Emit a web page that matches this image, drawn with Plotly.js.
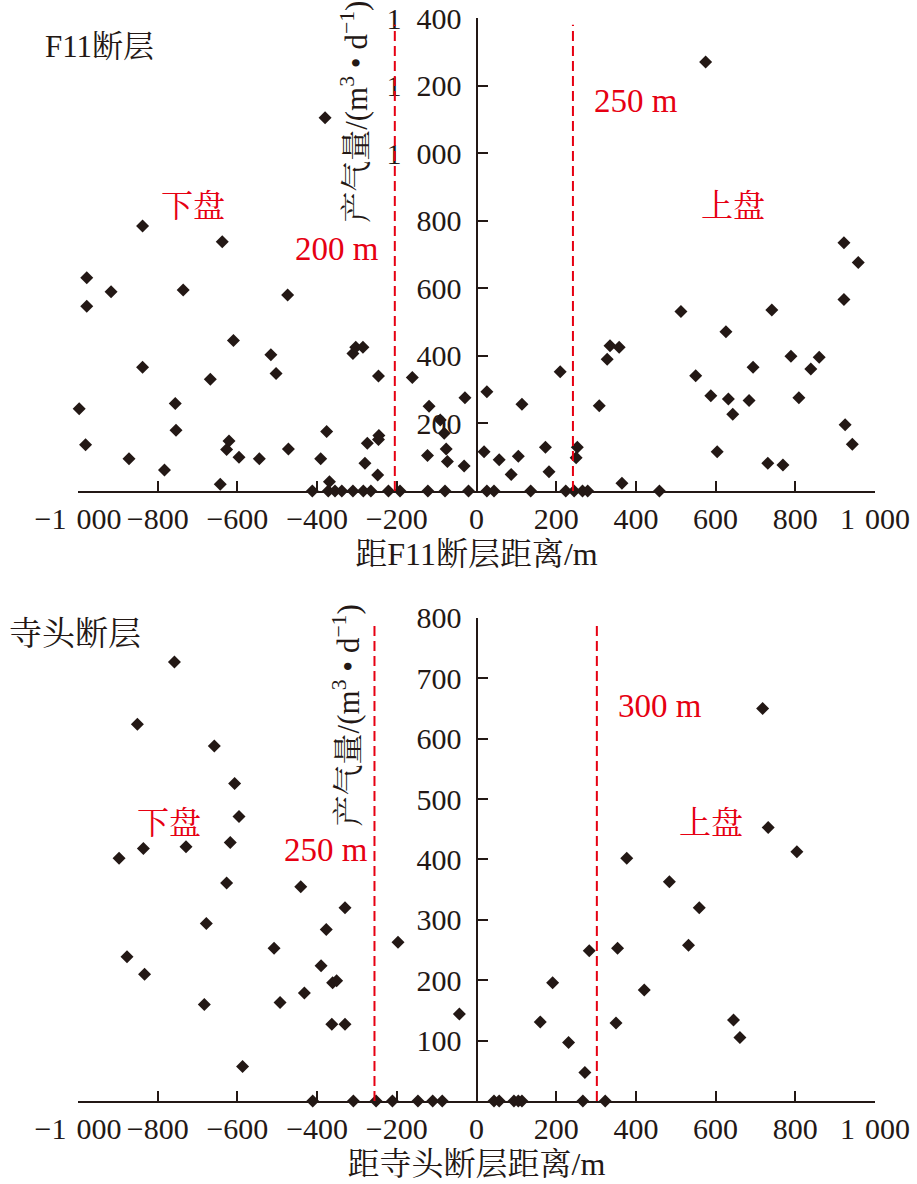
<!DOCTYPE html>
<html>
<head>
<meta charset="utf-8">
<script src="https://cdn.plot.ly/plotly-3.0.1.min.js"></script>
<style>
  html, body { margin: 0; padding: 0; background: #ffffff; }
  #chart { width: 917px; height: 1184px; }
</style>
</head>
<body>
<div id="chart"></div>
<script>
// ---------- Data: F11 fault (top panel) ----------
const f11Distance = [
  -380, -838, -638, -978, -917, -736, -474, -978, -610, -516,
  -310, -303, -285, -503, -838, -668, -246, -161, -997, -756,
  -119, -29, -91, -81, -76, -73, -31, -123, -981, -754,
  -621, -627, -596, -545, -472, -872, -783, -376, -391, -245,
  -246, -274, -280, -248, -643, -369,
  -412, -372, -355, -338, -310, -284, -265, -221, -192, -122, -79, -20,
  575, 922, 958, 922, 513, 741, 626, 335, 358, 328,
  210, 26, 114, 308, 550, 588, 632, 643, 684, 694,
  789, 860, 839, 809, 925, 943, 604, 731, 769, 19,
  57, 105, 87, 173, 182, 253, 250, 365,
  26, 44, 136, 224, 245, 266, 279, 459
];
const f11Gas = [
  1105, 784, 738, 631, 590, 595, 580, 547, 445, 403,
  407, 425, 425, 348, 366, 331, 340, 336, 243, 259,
  251, 276, 210, 171, 124, 87, 74, 105, 137, 180,
  148, 123, 100, 95, 124, 95, 62, 176, 95, 164,
  152, 141, 82, 47, 20, 27,
  0, 0, 0, 0, 0, 0, 0, 0, 0, 0, 0, 0,
  1270, 735, 676, 567, 531, 536, 471, 430, 425, 390,
  353, 294, 257, 252, 341, 282, 272, 227, 268, 366,
  399, 396, 361, 276, 196, 138, 116, 82, 77, 116,
  92, 103, 49, 129, 57, 129, 98, 23,
  0, 0, 0, 0, 0, 0, 0, 0
];
const f11Limits = [-205, 242];

// ---------- Data: Sitou fault (bottom panel) ----------
const sitouDistance = [
  -758, -851, -658, -607, -596, -618, -729, -836, -897, -627,
  -441, -330, -678, -377, -197, -508, -877, -390, -833, -361,
  -351, -432, -493, -683, -363, -330, -43, -587,
  -411, -309, -252, -211, -147, -110, -86,
  718, 732, 804, 377, 484, 559, 532, 354, 283, 191,
  421, 160, 350, 645, 661, 231, 272,
  44, 57, 94, 105, 114, 267, 323
];
const sitouGas = [
  727, 624, 588, 526, 471, 428, 421, 418, 402, 361,
  355, 320, 294, 284, 263, 253, 239, 224, 210, 196,
  199, 179, 163, 160, 127, 127, 144, 57,
  0, 0, 0, 0, 0, 0, 0,
  650, 453, 413, 402, 363, 320, 258, 253, 249, 196,
  184, 131, 129, 134, 105, 97, 47,
  0, 0, 0, 0, 0, 0, 0
];
const sitouLimits = [-256, 302];

// ---------- Tick labels ----------
const SP = '\u2004';
const xTickVals = [-1000, -800, -600, -400, -200, 0, 200, 400, 600, 800, 1000];
const xTickText = ['\u22121' + SP + '000', '\u2212800', '\u2212600', '\u2212400', '\u2212200', '0', '200', '400', '600', '800', '1' + SP + '000'];
const f11YTickVals = [200, 400, 600, 800, 1000, 1200, 1400];
const f11YTickText = ['200', '400', '600', '800', '1\u2002000', '1\u2002200', '1\u2002400'];
const sitouYTickVals = [100, 200, 300, 400, 500, 600, 700, 800];
const sitouYTickText = ['100', '200', '300', '400', '500', '600', '700', '800'];

// ---------- Styling ----------
const FONT = "'Liberation Serif', 'Times New Roman', 'Noto Serif CJK SC', 'Noto Sans CJK SC', serif";
const INK = '#231815';
const RED = '#e60012';

function marks(x, y, xa, ya) {
  return {
    type: 'scatter', mode: 'markers', x: x, y: y, xaxis: xa, yaxis: ya,
    cliponaxis: false, hoverinfo: 'x+y',
    marker: { symbol: 'diamond', size: 10, color: INK, line: { width: 0 } }
  };
}

const data = [
  marks(f11Distance, f11Gas, 'x', 'y'),
  marks(sitouDistance, sitouGas, 'x2', 'y2')
];

function xAxis(anchor, title) {
  return {
    domain: [0, 1], anchor: anchor, range: [-1000, 1000],
    tickmode: 'array', tickvals: xTickVals, ticktext: xTickText,
    ticks: 'inside', ticklen: 10, tickwidth: 2, tickcolor: INK,
    showline: true, linecolor: INK, linewidth: 2,
    showgrid: false, zeroline: false,
    tickfont: { family: FONT, size: 30, color: INK },
    title: { text: title, font: { family: FONT, size: 32, color: INK }, standoff: 9 }
  };
}
function yAxis(domain, range, vals, text) {
  return {
    domain: domain, anchor: 'free', position: 0.5, range: range,
    tickmode: 'array', tickvals: vals, ticktext: text,
    ticks: 'inside', ticklen: 10, tickwidth: 2, tickcolor: INK,
    showline: true, linecolor: INK, linewidth: 2,
    showgrid: false, zeroline: false, ticklabelstandoff: 8,
    tickfont: { family: FONT, size: 30, color: INK }
  };
}

function vline(xv, xa, ya, top) {
  return {
    type: 'line', xref: xa, yref: ya, x0: xv, x1: xv, y0: 0, y1: top,
    line: { color: RED, width: 2, dash: '10px,5px' }, layer: 'above'
  };
}

function note(text, x, y, xa, ya, color, size, angle) {
  return {
    text: text, x: x, y: y, xref: xa, yref: ya, showarrow: false,
    xanchor: 'center', yanchor: 'middle', textangle: angle || 0,
    font: { family: FONT, size: size, color: color }
  };
}

const yTitle = '产气量/(m<sup>3</sup> • d<sup>\u22121</sup>)';

const layout = {
  width: 917, height: 1184,
  margin: { l: 78, r: 42, t: 18, b: 83, pad: 0 },
  paper_bgcolor: '#ffffff', plot_bgcolor: '#ffffff',
  showlegend: false,
  separators: '. ',
  xaxis: xAxis('y', '距F11断层距离/m'),
  yaxis: yAxis([0.5633, 1], [0, 1400], f11YTickVals, f11YTickText),
  xaxis2: xAxis('y2', '距寺头断层距离/m'),
  yaxis2: yAxis([0, 0.446], [0, 800], sitouYTickVals, sitouYTickText),
  shapes: [
    vline(f11Limits[0], 'x', 'y', 1380),
    vline(f11Limits[1], 'x', 'y', 1380),
    vline(sitouLimits[0], 'x2', 'y2', 795),
    vline(sitouLimits[1], 'x2', 'y2', 795)
  ],
  annotations: [
    note('F11断层', 0.027, 0.9735, 'paper', 'paper', INK, 31),
    note('下盘', -712, 843, 'x', 'y', RED, 32),
    note('上盘', 643, 844, 'x', 'y', RED, 32),
    note('200 m', -349, 716, 'x', 'y', RED, 33),
    note('250 m', 399, 1153, 'x', 'y', RED, 33),
    note(yTitle, -305, 1122, 'x', 'y', INK, 31, -90),
    note('寺头断层', -0.004, 0.4312, 'paper', 'paper', INK, 33),
    note('下盘', -772, 460, 'x2', 'y2', RED, 32),
    note('上盘', 589, 460, 'x2', 'y2', RED, 32),
    note('250 m', -378, 416, 'x2', 'y2', RED, 33),
    note('300 m', 460, 655, 'x2', 'y2', RED, 33),
    note(yTitle, -327, 639, 'x2', 'y2', INK, 31, -90)
  ]
};

Plotly.newPlot('chart', data, layout, { displayModeBar: false, staticPlot: true });
</script>
</body>
</html>
